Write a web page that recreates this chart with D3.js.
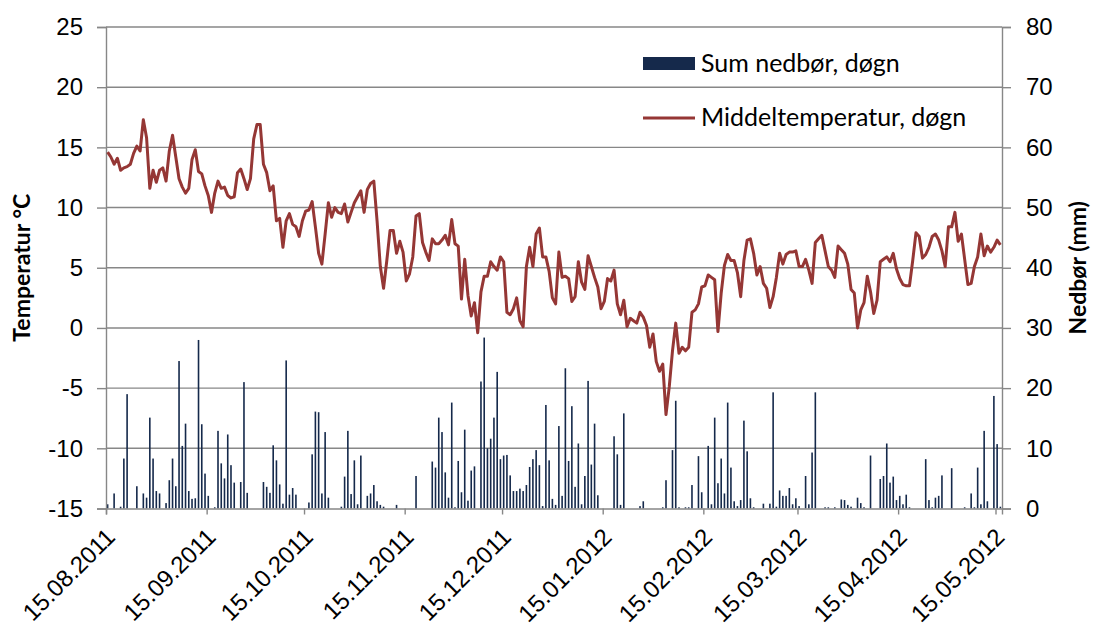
<!DOCTYPE html>
<html>
<head>
<meta charset="utf-8">
<script src="https://cdn.jsdelivr.net/npm/d3@7"></script>
<style>
  body { margin: 0; background: #fff; }
  svg { display: block; font-family: Lato, "Open Sans", sans-serif; }
</style>
</head>
<body>
<div id="chart"></div>
<script>
// daily series, first day 15.08.2011, one value per day
const firstDay = '15.08.2011';

const temperature = [
  14.6, 14.2, 13.6, 14.1, 13.1, 13.3, 13.4, 13.6, 14.5, 15.1,
  14.7, 17.3, 15.8, 11.6, 13.1, 12.1, 13.1, 13.3, 12.2, 14.7,
  16.0, 14.2, 12.4, 11.7, 11.2, 11.6, 14.0, 14.8, 13.0, 12.8,
  11.8, 11.0, 9.6, 11.2, 12.2, 11.6, 11.7, 11.0, 10.8, 10.9,
  12.9, 13.2, 12.4, 11.5, 12.4, 15.7, 16.9, 16.9, 13.6, 12.9,
  11.4, 11.8, 8.9, 9.1, 6.7, 8.9, 9.5, 8.6, 8.4, 7.6,
  8.9, 9.7, 9.8, 10.5, 8.4, 6.2, 5.3, 7.8, 10.4, 9.2,
  10.0, 9.6, 9.5, 10.3, 8.8, 9.6, 10.4, 10.9, 11.4, 9.6,
  11.5, 12.0, 12.2, 8.9, 5.1, 3.3, 5.6, 8.1, 8.1, 6.2,
  7.2, 6.3, 3.9, 4.5, 5.9, 9.3, 9.5, 7.1, 6.3, 5.6,
  7.4, 7.0, 7.0, 7.3, 7.7, 6.9, 9.0, 7.0, 6.8, 2.4,
  5.7, 2.7, 1.0, 2.1, -0.4, 3.0, 4.3, 4.3, 5.5, 5.1,
  4.8, 5.9, 5.5, 1.3, 1.1, 1.6, 2.5, 0.6, 0.1, 5.1,
  6.7, 5.1, 7.8, 8.3, 5.9, 5.9, 4.7, 2.5, 2.0, 6.3,
  4.2, 4.3, 4.1, 2.2, 2.6, 5.5, 3.8, 3.2, 6.0, 5.1,
  4.2, 3.4, 1.6, 2.2, 4.1, 3.9, 4.8, 2.0, 1.1, 2.3,
  0.1, 0.8, 0.6, 0.4, 1.3, 0.9, 0.2, -1.6, -0.5, -2.8,
  -3.6, -3.0, -7.2, -4.9, -1.9, 0.4, -2.1, -1.6, -1.9, -1.6,
  1.3, 1.5, 2.0, 3.4, 3.5, 4.4, 4.2, 4.0, -0.3, 2.9,
  5.2, 6.1, 5.6, 5.6, 4.6, 2.6, 5.6, 7.3, 7.4, 6.2,
  4.4, 5.1, 3.7, 3.3, 1.7, 2.6, 4.2, 6.2, 5.3, 6.1,
  6.3, 6.3, 6.4, 5.1, 5.1, 5.7, 4.8, 3.7, 7.1, 7.4,
  7.7, 6.4, 5.1, 4.8, 4.2, 6.8, 6.5, 6.2, 5.3, 3.2,
  2.9, 0.0, 1.5, 2.1, 4.3, 3.0, 1.2, 2.3, 5.5, 5.7,
  5.9, 5.5, 6.2, 4.9, 4.1, 3.6, 3.5, 3.5, 5.6, 7.9,
  7.6, 5.8, 6.1, 6.7, 7.6, 7.8, 7.3, 6.4, 5.1, 8.4,
  8.4, 9.6, 7.2, 7.8, 5.7, 3.6, 3.7, 5.1, 5.9, 7.8,
  6.0, 6.8, 6.3, 6.7, 7.3, 6.9
];

const precipitation = [
  0.7, 0, 2.5, 0, 0.3, 8.3, 19.0, 0, 0, 3.7,
  0, 2.5, 1.8, 15.1, 8.3, 2.9, 2.5, 0, 0.9, 4.7,
  8.3, 3.7, 24.5, 10.4, 14.1, 2.9, 1.6, 1.7, 28.0, 14.0,
  5.8, 2.1, 0, 0.2, 12.9, 7.5, 5.0, 12.3, 7.2, 4.3,
  0, 4.4, 21.0, 2.6, 0, 0, 0, 0, 4.4, 3.6,
  2.6, 10.5, 8.0, 4.0, 0.8, 24.6, 2.3, 3.4, 2.3, 0,
  0, 0, 1.0, 9.0, 16.1, 16.0, 2.5, 12.7, 1.8, 0,
  0, 0, 0.3, 5.3, 12.9, 2.4, 8.0, 0.7, 8.8, 0,
  2.1, 2.5, 3.9, 1.2, 0.6, 0.3, 0, 0, 0, 0.6,
  0, 0, 0, 0, 0, 5.4, 0, 0, 0, 0,
  7.8, 6.8, 15.1, 12.7, 6.0, 1.8, 17.6, 0.2, 7.9, 2.7,
  13.1, 1.3, 6.3, 7.0, 0, 21.1, 28.4, 10.0, 11.6, 15.1,
  22.7, 8.2, 8.8, 8.9, 5.5, 2.9, 2.9, 3.3, 2.9, 3.9,
  6.9, 8.2, 9.7, 7.2, 0.4, 17.2, 8.0, 1.6, 0.6, 13.7,
  2.1, 23.3, 7.9, 17.0, 3.6, 10.8, 0.7, 5.4, 21.2, 7.3,
  14.1, 2.2, 0, 0, 0, 0, 12.0, 9.0, 0.6, 15.8,
  0, 0, 0, 0, 0.4, 1.2, 0, 0, 0, 0,
  0, 0.2, 4.7, 0, 9.7, 17.9, 0.2, 0, 0.2, 0.2,
  3.9, 0, 8.7, 2.7, 0, 10.4, 0.7, 15.1, 4.2, 8.3,
  2.5, 17.6, 6.8, 1.2, 0.4, 1.4, 14.6, 9.5, 1.7, 0.2,
  0, 0, 0.8, 0, 0.8, 19.3, 0.3, 3.0, 2.1, 2.1,
  3.4, 0.7, 1.7, 0.4, 0, 5.4, 0.7, 9.3, 19.3, 0,
  0, 0.2, 0.2, 0, 0.2, 0, 1.5, 1.4, 0.6, 0.3,
  0, 1.8, 0.9, 0.2, 0, 8.8, 0, 0, 4.9, 5.4,
  10.8, 4.3, 5.3, 1.4, 2.1, 0.7, 2.3, 0.2, 0, 0,
  0, 0, 8.2, 1.4, 0.2, 1.8, 2.1, 5.5, 0, 0,
  6.7, 0, 0, 0, 0.2, 0, 2.5, 0.2, 6.8, 0.7,
  12.9, 1.2, 0, 18.7, 10.7, 0.3
];

const monthTicks = ['15.08.2011', '15.09.2011', '15.10.2011', '15.11.2011', '15.12.2011',
  '15.01.2012', '15.02.2012', '15.03.2012', '15.04.2012', '15.05.2012'];
const tempTicks = [-15, -10, -5, 0, 5, 10, 15, 20, 25];
const rainTicks = [0, 10, 20, 30, 40, 50, 60, 70, 80];

const seriesNames = ['Sum nedbør, døgn', 'Middeltemperatur, døgn'];

class WeatherChart {

  constructor(_config) {
    this.config = {
      parentElement: _config.parentElement,
      containerWidth: 1093,
      containerHeight: 628,
      margin: {top: 27, right: 91, bottom: 119.5, left: 106},
      rainColor: '#15294b',
      tempColor: '#953735',
      gridColor: '#878787'
    }
    this.initVis();
  }

  initVis() {
    let vis = this;
    const c = vis.config;
    c.width = c.containerWidth - c.margin.left - c.margin.right;
    c.height = c.containerHeight - c.margin.top - c.margin.bottom;

    const parse = d3.timeParse('%d.%m.%Y');
    vis.start = parse(firstDay);
    vis.data = temperature.map((t, i) => ({
      date: d3.timeDay.offset(vis.start, i),
      temp: t,
      rain: precipitation[i]
    }));
    vis.tickDates = monthTicks.map(parse);

    vis.xScale = d3.scaleTime()
      .domain([vis.start, d3.timeDay.offset(vis.start, vis.data.length)])
      .range([0, c.width]);
    vis.yTemp = d3.scaleLinear().domain([-15, 25]).range([c.height, 0]);
    vis.yRain = d3.scaleLinear().domain([0, 80]).range([c.height, 0]);

    vis.svg = d3.select(c.parentElement).append('svg')
      .attr('width', c.containerWidth)
      .attr('height', c.containerHeight);

    vis.chart = vis.svg.append('g')
      .attr('transform', `translate(${c.margin.left},${c.margin.top})`);

    vis.renderVis();
  }

  // x position of the middle of a day
  mid(d) {
    return this.xScale(d3.timeHour.offset(d.date, 12));
  }

  renderVis() {
    let vis = this;
    const c = vis.config;

    // horizontal gridlines
    vis.chart.append('g').selectAll('line')
      .data(tempTicks.filter(t => t > -15))
      .join('line')
      .attr('x1', 0).attr('x2', c.width)
      .attr('y1', d => vis.yTemp(d)).attr('y2', d => vis.yTemp(d))
      .attr('stroke', c.gridColor)
      .attr('stroke-width', 1.4);

    // precipitation bars
    vis.chart.append('g').selectAll('rect')
      .data(vis.data.filter(d => d.rain > 0))
      .join('rect')
      .attr('x', d => vis.mid(d) - 0.8)
      .attr('width', 1.6)
      .attr('y', d => vis.yRain(d.rain))
      .attr('height', d => c.height - vis.yRain(d.rain))
      .attr('fill', c.rainColor);

    // axes
    const styleAxis = g => {
      g.select('.domain').attr('stroke', c.gridColor).attr('stroke-width', 1.4);
      g.selectAll('.tick line').attr('stroke', c.gridColor).attr('stroke-width', 1.4);
      g.selectAll('text').attr('fill', '#000').attr('font-size', 24);
    };
    const plain = d => String(d);  // hyphen minus like the original

    vis.chart.append('g')
      .call(d3.axisLeft(vis.yTemp).tickValues(tempTicks).tickFormat(plain).tickSize(9).tickPadding(14))
      .call(styleAxis);

    vis.chart.append('g')
      .attr('transform', `translate(${c.width},0)`)
      .call(d3.axisRight(vis.yRain).tickValues(rainTicks).tickFormat(plain).tickSize(9).tickPadding(15))
      .call(styleAxis);

    vis.chart.append('g')
      .attr('transform', `translate(0,${c.height})`)
      .call(d3.axisBottom(vis.xScale).tickValues(vis.tickDates)
        .tickFormat(d3.timeFormat('%d.%m.%Y')).tickSize(6))
      .call(styleAxis)
      .selectAll('text')
      .attr('x', 0).attr('y', 0).attr('dy', '0.35em')
      .attr('text-anchor', 'end')
      .attr('transform', 'translate(4,24) rotate(-45)');

    // temperature line
    vis.chart.append('path')
      .datum(vis.data)
      .attr('fill', 'none')
      .attr('stroke', c.tempColor)
      .attr('stroke-width', 3)
      .attr('stroke-linejoin', 'round')
      .attr('d', d3.line().x(d => vis.mid(d)).y(d => vis.yTemp(d.temp)));

    // axis titles
    vis.svg.append('text')
      .attr('transform', `translate(30,${c.margin.top + c.height / 2}) rotate(-90)`)
      .attr('text-anchor', 'middle')
      .attr('font-size', 23).attr('font-weight', 'bold')
      .text('Temperatur °C');

    vis.svg.append('text')
      .attr('transform', `translate(1086,${c.margin.top + c.height / 2}) rotate(-90)`)
      .attr('text-anchor', 'middle')
      .attr('font-size', 23).attr('font-weight', 'bold')
      .text('Nedbør (mm)');

    // legend
    const legend = vis.svg.append('g').attr('transform', 'translate(643,0)');
    legend.append('rect')
      .attr('x', 0).attr('y', 57).attr('width', 52).attr('height', 13)
      .attr('fill', c.rainColor);
    legend.append('line')
      .attr('x1', 0).attr('x2', 52).attr('y1', 118).attr('y2', 118)
      .attr('stroke', c.tempColor).attr('stroke-width', 3);
    legend.selectAll('text.lbl')
      .data(seriesNames)
      .join('text')
      .attr('class', 'lbl')
      .attr('x', 58)
      .attr('y', (d, i) => i === 0 ? 72 : 126)
      .attr('font-size', 25)
      .text(d => d);
  }
}

new WeatherChart({parentElement: '#chart'});
</script>
</body>
</html>
